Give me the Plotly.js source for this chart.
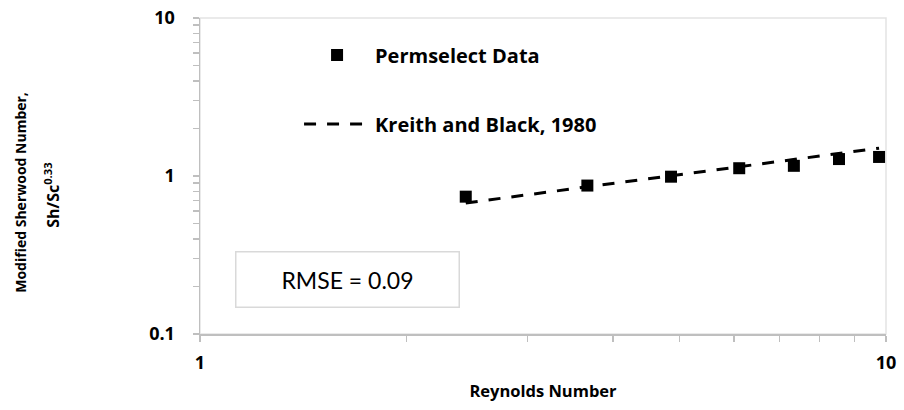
<!DOCTYPE html>
<html>
<head>
<meta charset="utf-8">
<script src="https://cdn.plot.ly/plotly-3.0.1.min.js"></script>
<style>
  html, body { margin: 0; padding: 0; background: #ffffff; }
  #chart { width: 904px; height: 410px; }
</style>
</head>
<body>
<div id="chart"></div>
<script>
// Reynolds numbers of the measured points
const reynolds = [2.44, 3.67, 4.86, 6.11, 7.34, 8.54, 9.77];
// Measured modified Sherwood number, Sh/Sc^0.33
const permselectData = [0.74, 0.87, 0.99, 1.12, 1.16, 1.28, 1.32];
// Kreith and Black (1980) correlation evaluated at the same Reynolds numbers
const kreithBlack = [0.675, 0.853, 1.00, 1.145, 1.27, 1.39, 1.50];

// Axis tick labels
const xTickVals = [1, 10];
const xTickText = ['1', '10'];
const yTickVals = [0.1, 1, 10];
const yTickText = ['0.1', '1', '10'];
const xMinorVals = [2, 3, 4, 5, 6, 7, 8, 9];
const yMinorVals = [0.2, 0.3, 0.4, 0.5, 0.6, 0.7, 0.8, 0.9, 2, 3, 4, 5, 6, 7, 8, 9];

const BOLD_FONT = '"Open Sans", Lato, sans-serif';
const TEXT_FONT = 'Lato, "Open Sans", sans-serif';
const AXIS_GRAY = '#bfbfbf';

const traces = [
  {
    x: reynolds,
    y: permselectData,
    type: 'scatter',
    mode: 'markers',
    name: 'Permselect Data',
    legendgroup: 'a',
    marker: { symbol: 'square', size: 12, color: '#000000' }
  },
  {
    x: reynolds,
    y: kreithBlack,
    type: 'scatter',
    mode: 'lines',
    name: 'Kreith and Black, 1980',
    legendgroup: 'b',
    line: { color: '#000000', width: 3, dash: '12px,11px' }
  }
];

const layout = {
  width: 904,
  height: 410,
  margin: { l: 200, r: 18, t: 18, b: 76 },
  paper_bgcolor: '#ffffff',
  plot_bgcolor: '#ffffff',
  font: { family: BOLD_FONT, color: '#000000' },
  showlegend: true,
  legend: {
    x: 0.1444,
    y: 0.945,
    xanchor: 'left',
    yanchor: 'top',
    bgcolor: 'rgba(0,0,0,0)',
    itemwidth: 66,
    tracegroupgap: 40,
    font: { family: BOLD_FONT, size: 20, weight: 'bold', color: '#000000' }
  },
  xaxis: {
    type: 'log',
    range: [0, 1],
    tickvals: xTickVals,
    ticktext: xTickText,
    ticks: 'outside',
    ticklen: 6,
    tickwidth: 1.5,
    tickcolor: AXIS_GRAY,
    showline: true,
    linecolor: AXIS_GRAY,
    linewidth: 1.5,
    showgrid: false,
    zeroline: false,
    ticklabelstandoff: 6,
    tickfont: { family: BOLD_FONT, size: 18, weight: 'bold', color: '#000000' },
    minor: { tickvals: xMinorVals, ticks: 'outside', ticklen: 6, tickwidth: 1.5, tickcolor: AXIS_GRAY, showgrid: false },
    title: {
      text: 'Reynolds Number',
      standoff: 12,
      font: { family: BOLD_FONT, size: 16.5, weight: 'bold', color: '#000000' }
    }
  },
  yaxis: {
    type: 'log',
    range: [-1, 1],
    tickvals: yTickVals,
    ticktext: yTickText,
    ticks: 'outside',
    ticklen: 6,
    tickwidth: 1.5,
    tickcolor: AXIS_GRAY,
    showline: true,
    linecolor: AXIS_GRAY,
    linewidth: 1.5,
    showgrid: false,
    zeroline: false,
    ticklabelstandoff: 14,
    tickfont: { family: BOLD_FONT, size: 18, weight: 'bold', color: '#000000' },
    minor: { tickvals: yMinorVals, ticks: 'outside', ticklen: 6, tickwidth: 1.5, tickcolor: AXIS_GRAY, showgrid: false }
  },
  shapes: [
    // light frame around the plotting area
    {
      type: 'rect', xref: 'paper', yref: 'paper',
      x0: 0, x1: 1, y0: 0, y1: 1,
      line: { color: '#e3e3e3', width: 1.5 },
      layer: 'below'
    }
  ],
  annotations: [
    {
      text: 'Modified Sherwood Number,',
      xref: 'paper', yref: 'paper',
      x: -0.261, y: 0.45,
      xanchor: 'center', yanchor: 'middle',
      textangle: -90,
      showarrow: false,
      font: { family: BOLD_FONT, size: 14, weight: 'bold', color: '#000000' }
    },
    {
      text: 'Sh/Sc<sup>0.33</sup>',
      xref: 'paper', yref: 'paper',
      x: -0.216, y: 0.44,
      xanchor: 'center', yanchor: 'middle',
      textangle: -90,
      showarrow: false,
      font: { family: BOLD_FONT, size: 16, weight: 'bold', color: '#000000' }
    },
    {
      text: 'RMSE = 0.09',
      xref: 'paper', yref: 'paper',
      x: 0.2143, y: 0.171,
      xanchor: 'center', yanchor: 'middle',
      showarrow: false,
      width: 220,
      height: 52,
      bgcolor: '#ffffff',
      bordercolor: '#d9d9d9',
      borderwidth: 1.5,
      font: { family: TEXT_FONT, size: 23, color: '#000000' }
    }
  ]
};

Plotly.newPlot('chart', traces, layout, { displayModeBar: false, staticPlot: true });
</script>
</body>
</html>
